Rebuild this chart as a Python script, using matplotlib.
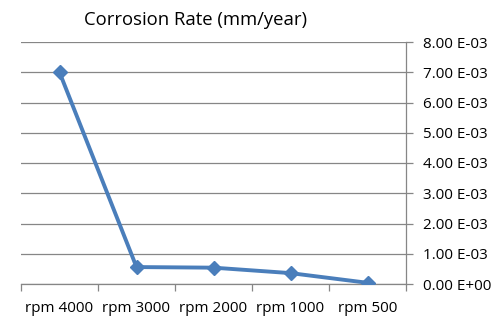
import numpy as np
import matplotlib
matplotlib.use("Agg")
import matplotlib.pyplot as plt
from matplotlib.ticker import FuncFormatter, FixedLocator

categories = ["rpm 4000", "rpm 3000", "rpm 2000", "rpm 1000", "rpm 500"]
rates = [7.00e-3, 0.56e-3, 0.54e-3, 0.36e-3, 0.04e-3]
yticks = [i * 1e-3 for i in range(9)]

plt.rcParams['font.family'] = ['Open Sans', 'DejaVu Sans']

fig = plt.figure(figsize=(5.01, 3.36), dpi=100)
ax = fig.add_axes([21 / 501, 1 - 284 / 336, 385 / 501, 242 / 336])

x = np.arange(len(categories))
ax.plot(x, rates, color="#4A7EBB", lw=2.8, marker="D", ms=7, zorder=3)

ax.set_xlim(-0.5, len(categories) - 0.5)
ax.set_ylim(0, 8e-3)
ax.set_yticks(yticks)
ax.yaxis.tick_right()
ax.yaxis.set_major_formatter(FuncFormatter(lambda v, p: f"{v:.2E}".replace("E", " E")))
ax.grid(axis="y", color="#868686", lw=0.9)
ax.set_axisbelow(True)

ax.set_xticks(x)
ax.set_xticklabels(categories)
ax.xaxis.set_minor_locator(FixedLocator(np.arange(-0.5, len(categories), 1.0)))
ax.tick_params(axis="x", which="major", length=0, pad=12, labelsize=11)
ax.tick_params(axis="x", which="minor", length=5, color="#868686", width=0.9)
ax.tick_params(axis="y", length=5, color="#868686", width=0.9, pad=7, labelsize=11)

for s in ["top", "left"]:
    ax.spines[s].set_visible(False)
ax.spines["right"].set_color("#868686")
ax.spines["bottom"].set_color("#868686")
ax.spines["right"].set_linewidth(0.9)
ax.spines["bottom"].set_linewidth(0.9)

fig.text(196 / 501, 1 - 20 / 336, "Corrosion Rate (mm/year)", ha="center", va="center", fontsize=13.3)

fig.savefig("out.png", dpi=100)
